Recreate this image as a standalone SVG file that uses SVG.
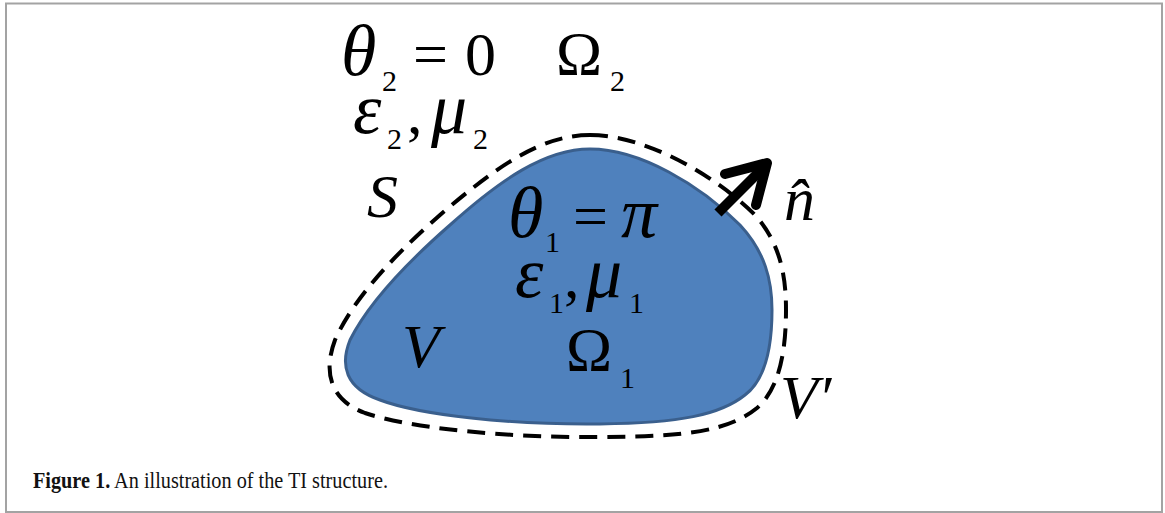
<svg xmlns="http://www.w3.org/2000/svg" width="1165" height="513" viewBox="0 0 1165 513">
<style>
.m{font-family:"Liberation Serif","Times New Roman",serif;font-size:62px;fill:#000}
.i{font-style:italic}
.g{font-size:72px;font-style:italic}
.s{font-size:30px;font-style:normal}
.cap{font-family:"Liberation Serif","Times New Roman",serif;font-size:23px;fill:#111}
</style>
<rect x="0" y="0" width="1165" height="513" fill="#fff"/>
<rect x="6" y="3.5" width="1156" height="508.5" fill="none" stroke="#a3a3a3" stroke-width="2"/>
<g id="region-V">
<path d="M 590,149 C 640,149 700,185 740,225 C 765,252 772,280 772,310 C 772,350 765,380 745,395 C 720,415 680,423 600,424 C 510,425 420,415 380,400 C 345,388 340,365 350,340 C 370,300 410,260 450,225 C 500,180 545,149 590,149 Z" fill="#4F81BD" stroke="#3A5F8D" stroke-width="3"/>
</g>
<g id="surface-S">
<path d="M 590,135 C 645,135 715,175 755,215 C 782,245 786,280 786,310 C 786,355 778,390 757,408 C 730,430 690,437 600,437 C 505,438 410,428 365,413 C 330,400 323,372 335,340 C 355,295 400,250 440,215 C 495,168 540,135 590,135 Z" fill="none" stroke="#000" stroke-width="4" stroke-dasharray="18 10"/>
</g>
<g id="connectors">
<line x1="718" y1="213" x2="763" y2="168" stroke="#000" stroke-width="10"/>
<path d="M 725,174 L 767,163 L 756,205" fill="none" stroke="#000" stroke-width="10" stroke-linejoin="round" stroke-linecap="round"/>
</g>
<g id="labels-outer">
<text class="m"><tspan class="g" x="341" y="75">θ</tspan><tspan class="s" x="382" y="91">2</tspan><tspan x="413" y="75">=</tspan><tspan x="465" y="75">0</tspan></text>
<text class="m"><tspan x="556" y="74">Ω</tspan><tspan class="s" x="610" y="91">2</tspan></text>
<text class="m"><tspan class="g" x="353" y="133">ε</tspan><tspan class="s" x="387" y="149">2</tspan><tspan x="407" y="133">,</tspan><tspan class="g" x="431" y="133">μ</tspan><tspan class="s" x="473" y="149">2</tspan></text>
<text class="m i" x="367" y="217">S</text>
</g>
<g id="labels-inner">
<text class="m"><tspan class="g" x="508" y="237">θ</tspan><tspan class="s" x="545" y="252">1</tspan><tspan x="573" y="237">=</tspan><tspan class="g" x="621" y="237">π</tspan></text>
<text class="m"><tspan class="g" x="515" y="297">ε</tspan><tspan class="s" x="549" y="313">1</tspan><tspan x="564" y="297">,</tspan><tspan class="g" x="586" y="297">μ</tspan><tspan class="s" x="629" y="313">1</tspan></text>
<text class="m i" x="402" y="367">V</text>
<text class="m"><tspan x="566" y="370">Ω</tspan><tspan class="s" x="620" y="388">1</tspan></text>
</g>
<g id="labels-right">
<text class="m i" x="784" y="220">n̂</text>
<text class="m i" x="780" y="418">V′</text>
</g>
<text class="cap" x="33" y="488" textLength="355" lengthAdjust="spacingAndGlyphs"><tspan font-weight="bold">Figure 1.</tspan> An illustration of the TI structure.</text>
</svg>
